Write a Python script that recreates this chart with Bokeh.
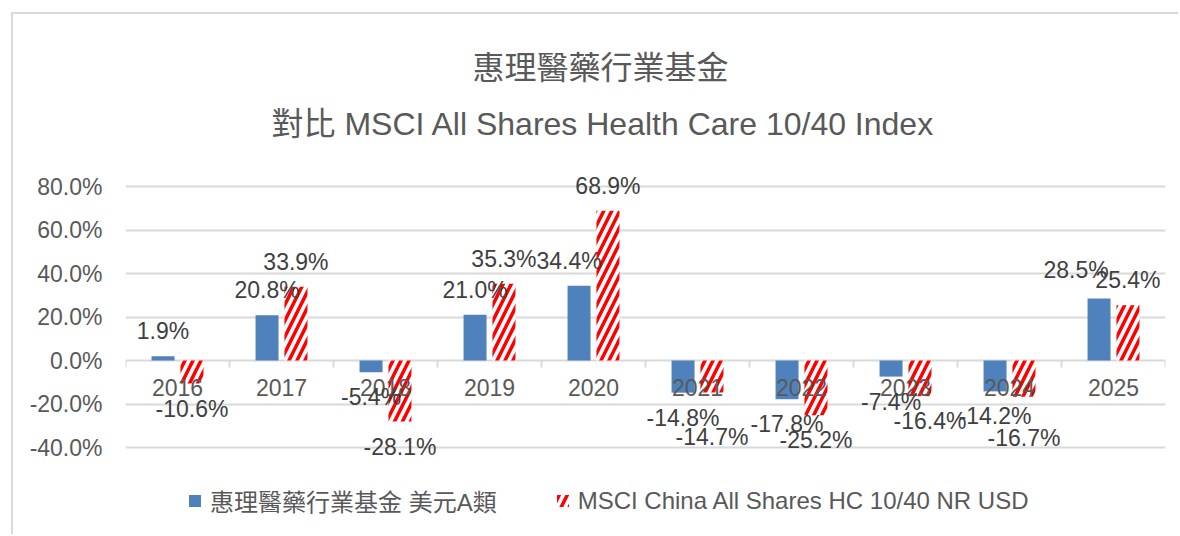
import numpy as np
from bokeh.plotting import figure
from bokeh.models import (ColumnDataSource, Range1d, FixedTicker, PrintfTickFormatter,
                          LabelSet, Legend, LegendItem, Title)
from bokeh.core.properties import value
from bokeh.embed import file_html
from bokeh.resources import INLINE

# ---------------- data ----------------
years = ["2016", "2017", "2018", "2019", "2020", "2021", "2022", "2023", "2024", "2025"]
fund = [1.9, 20.8, -5.4, 21.0, 34.4, -14.8, -17.8, -7.4, -14.2, 28.5]
index = [-10.6, 33.9, -28.1, 35.3, 68.9, -14.7, -25.2, -16.4, -16.7, 25.4]
y_ticks = [-40, -20, 0, 20, 40, 60, 80]
title_main = "惠理醫藥行業基金"
title_sub = "對比 MSCI All Shares Health Care 10/40 Index"
fund_name = "惠理醫藥行業基金 美元A類"
index_name = "MSCI China All Shares HC 10/40 NR USD"

# ---------------- style ----------------
LATIN = "Liberation Sans, Noto Sans CJK TC"
CJK = "Noto Sans CJK TC"
TXT = "#595959"
LBL = "#404040"
GRID = "#d9d9d9"
BLUE = "#4f81bd"
RED = "#ff0000"
BAR_W = 0.221
OFF = 0.139
LABEL_GAP = 25
# hand-nudged data labels (screen px: dx, dy), as in the original chart
fund_nudge = {"2020": (-10, 0), "2025": (-23, 4)}
index_nudge = {"2021": (0, -20), "2023": (10, 0), "2024": (0, -16)}

# plot-area geometry (px)
PX_PER_UNIT = 261 / 120        # gridline spacing: 20% = 43.5 px
PAD_TOP, PAD_BOTTOM = 18, 75   # frame extends beyond the gridlines for labels/legend

n = len(years)
centers = np.arange(n) + 0.5
bounds = np.arange(n + 1)
x_fund = centers - OFF
x_index = centers + OFF


def label_source(xs, vals, nudge):
    return ColumnDataSource(dict(
        x=xs, top=vals,
        txt=[f"{v:.1f}%" for v in vals],
        xoff=[nudge.get(y, (0, 0))[0] for y in years],
        yoff=[(LABEL_GAP if v >= 0 else -LABEL_GAP) + nudge.get(y, (0, 0))[1]
              for v, y in zip(vals, years)]))


src_fund = label_source(x_fund, fund, fund_nudge)
src_index = label_source(x_index, index, index_nudge)
src_cat = ColumnDataSource(dict(x=centers, y=np.zeros(n), txt=years))

p = figure(width=1178, height=534,
           x_range=Range1d(0, n),
           y_range=Range1d(y_ticks[0] - PAD_BOTTOM / PX_PER_UNIT,
                           y_ticks[-1] + PAD_TOP / PX_PER_UNIT),
           output_backend="svg", toolbar_location=None,
           min_border_left=125, min_border_right=13,
           min_border_top=168, min_border_bottom=12,
           outline_line_color=None, background_fill_alpha=0,
           border_fill_alpha=0)
# light-grey chart-area frame (left / top edges), drawn without affecting layout
p.styles = {"box-shadow": f"inset 11px 12px 0 0 white, inset 13px 14px 0 0 {GRID}"}

# grid (the 0 line doubles as the category axis line)
p.xgrid.visible = False
p.ygrid.ticker = FixedTicker(ticks=y_ticks)
p.ygrid.grid_line_color = GRID
p.ygrid.grid_line_width = 2

# y axis
p.yaxis.ticker = FixedTicker(ticks=y_ticks)
p.yaxis.formatter = PrintfTickFormatter(format="%.1f%%")
p.yaxis.axis_line_color = None
p.yaxis.major_tick_out = 0
p.yaxis.major_tick_in = 0
p.yaxis.minor_tick_line_color = None
p.yaxis.major_label_text_font = LATIN
p.yaxis.major_label_text_font_size = "23px"
p.yaxis.major_label_text_color = TXT
p.yaxis.major_label_standoff = 23

# x axis: categories are labelled at the zero line instead
p.xaxis.visible = False

# category boundary ticks hanging below the zero line
p.ray(x=bounds, y=0, length=7, length_units="screen", angle=-np.pi / 2,
      line_color=GRID, line_width=2)

# bars
r1 = p.vbar(x="x", top="top", bottom=0, width=BAR_W, source=src_fund,
            fill_color=BLUE, line_color=None)
r2 = p.vbar(x="x", top="top", bottom=0, width=BAR_W, source=src_index,
            fill_color="white", line_color=None,
            hatch_pattern="/", hatch_color=RED, hatch_scale=16, hatch_weight=3.5)

# category labels under the zero line
p.add_layout(LabelSet(x="x", y="y", text="txt", y_offset=-27, source=src_cat,
                      text_align="center", text_baseline="middle",
                      text_font=value(LATIN), text_font_size="23px",
                      text_color=TXT))

# data labels
for src in (src_fund, src_index):
    p.add_layout(LabelSet(x="x", y="top", text="txt", x_offset="xoff", y_offset="yoff",
                          source=src, text_align="center", text_baseline="middle",
                          text_font=value(LATIN), text_font_size="23px",
                          text_color=LBL))

# titles (p.title is the outer one)
p.title.text = title_main
p.title.align = "left"
p.title.offset = 347
p.title.text_font = CJK
p.title.text_font_size = "32px"
p.title.text_font_style = "normal"
p.title.text_color = TXT
p.title.standoff = -22
t_sub = Title(text=title_sub, align="left", offset=146, text_font=LATIN,
              text_font_size="32px", text_font_style="normal", text_color=TXT,
              standoff=54)
p.add_layout(t_sub, "above")

# legend (below the gridlines, inside the extended frame)
legend = Legend(items=[LegendItem(label=fund_name, renderers=[r1]),
                       LegendItem(label=index_name, renderers=[r2])],
                orientation="horizontal", location=(62, 4),
                glyph_width=15, glyph_height=15, label_standoff=8, spacing=58,
                padding=0, margin=0, border_line_color=None,
                background_fill_alpha=0,
                label_text_font=LATIN, label_text_font_size="24px",
                label_text_color=TXT)
p.add_layout(legend)

open("out.html", "w").write(file_html(p, INLINE))
